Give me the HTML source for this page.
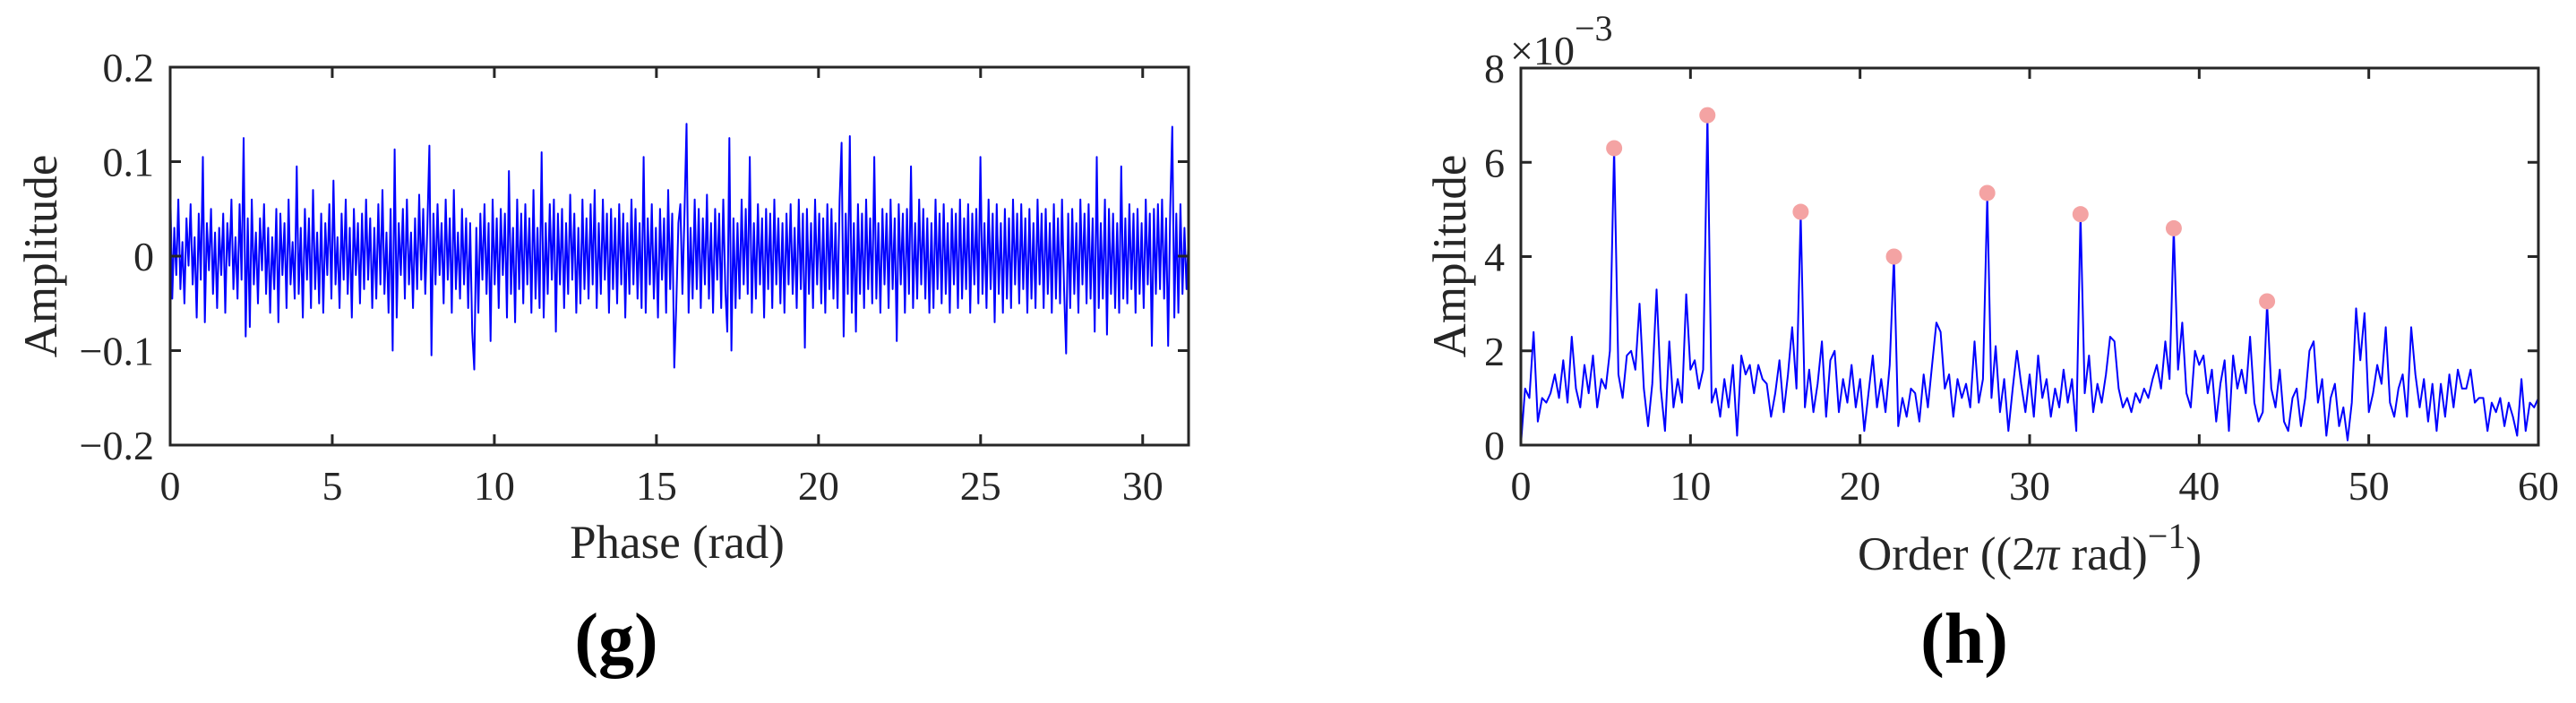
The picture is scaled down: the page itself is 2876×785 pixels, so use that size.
<!DOCTYPE html>
<html><head><meta charset="utf-8"><title>Phase signal and order spectrum</title>
<style>
html,body{margin:0;padding:0;background:#fff;}
svg{display:block;font-family:"Liberation Serif","DejaVu Serif",serif;}
.tk{font-size:46px;fill:#262626;}
.lb{font-size:53px;fill:#262626;}
.pn{font-size:80px;font-weight:bold;fill:#000;}
</style></head>
<body>
<svg id="fig" width="2876" height="785" viewBox="0 0 2876 785" xmlns="http://www.w3.org/2000/svg">
<g id="left"></g>
<g id="right"></g>
</svg>
<script>
// ---- Panel (g) data: amplitude vs phase (thousandths) ----
const gXMax = 31.4159;
const gYTicks = [-0.2, -0.1, 0, 0.1, 0.2];
const gYTickLabels = ["\u22120.2", "\u22120.1", "0", "0.1", "0.2"];
const gXTicks = [0, 5, 10, 15, 20, 25, 30];
const gXTickLabels = ["0", "5", "10", "15", "20", "25", "30"];
const gSignal = [
80,-45,30,-20,60,-35,15,-50,40,-10,55,-30,20,-65,45,-25,105,-70,35,-15,50,-40,25,-55,30,
-20,45,-60,35,-10,60,-35,20,-45,55,-25,125,-85,40,-75,60,-30,25,-50,40,-15,55,-40,30,-60,
20,-35,50,-70,45,-20,35,-55,60,-30,15,-45,95,-40,30,-65,50,-25,40,-55,70,-35,25,-50,45,
-60,35,-20,55,-45,80,-30,20,-55,45,-25,60,-40,30,-65,50,-20,35,-50,45,-35,60,-25,40,-55,
30,-45,55,-30,70,-40,25,-60,50,-100,113,-65,35,-20,50,-45,60,-30,25,-55,40,-35,65,-25,50,
-40,30,117,-105,45,-30,55,-20,35,-50,60,-25,40,-60,70,-35,25,-45,50,-30,40,-55,35,-80,-120,
30,-60,45,-25,55,-40,35,-90,60,-30,40,-55,50,-20,45,-65,90,-40,30,-70,60,-35,45,-50,55,
-30,40,-60,70,-45,30,-55,110,-65,35,-40,55,-25,60,-80,45,-30,50,-55,35,-40,65,-25,45,-60,
30,-50,60,-35,40,-45,55,-30,70,-55,35,-40,60,-25,45,-60,50,-35,40,-50,55,-30,45,-65,35,
-40,60,-30,50,-45,35,-55,105,-60,40,-30,55,-45,30,-65,50,-25,40,-60,70,-35,45,-118,-50,35,
55,-40,45,140,-60,30,-45,60,-35,50,-55,40,-30,65,-45,35,-60,50,-25,45,-55,60,-35,-80,125,
-100,40,-55,35,-45,60,-30,50,-40,105,-60,35,-45,55,-30,40,-65,50,-35,45,-55,60,-30,40,-50,
35,-60,45,-30,55,-40,30,-55,60,-35,45,-97,50,-40,35,-55,60,-30,45,-50,40,-60,55,-35,50,
-45,35,-55,60,120,-85,45,-40,127,-60,35,-80,55,-40,45,-55,60,-35,40,-50,105,-45,35,-60,50,
-30,45,-55,60,-35,40,-90,55,-30,45,-60,50,-40,95,-55,35,-45,60,-30,50,-45,40,-60,35,-55,
60,-35,45,-50,55,-40,35,-60,50,-30,45,-55,60,-45,40,-35,55,-60,45,-30,50,-50,105,-40,35,
-55,60,-35,45,-70,55,-40,35,-60,50,-45,40,-55,60,-30,45,-50,55,-35,40,-60,50,-45,35,-55,
60,-30,45,-55,50,-40,35,-60,55,-45,40,-50,60,-35,-103,45,-55,50,-40,35,-60,60,-30,45,-50,
55,-45,40,-80,105,-55,35,-45,60,-83,50,-40,45,-55,35,-60,95,-45,40,-50,55,-35,45,-60,50,
-40,35,-55,60,-30,45,-95,50,-40,55,-35,60,-45,40,-95,50,137,-65,45,-60,55,-40,30,-35,20
];

// ---- Panel (h) data: order spectrum (units of 1e-4), step 0.25 ----
const hStep = 0.25;
const hYTicks = [0, 2, 4, 6, 8];
const hYTickLabels = ["0", "2", "4", "6", "8"];
const hXTicks = [0, 10, 20, 30, 40, 50, 60];
const hXTickLabels = ["0", "10", "20", "30", "40", "50", "60"];
const hSpectrum = [
0,12,10,24,5,10,9,11,15,10,18,9,23,12,8,17,11,19,8,14,12,
20,63,15,10,19,20,16,30,12,4,13,33,12,3,22,8,14,9,32,16,
18,12,16,70,9,12,6,14,8,17,2,19,15,17,11,17,14,13,6,11,
18,7,15,25,12,49,8,16,7,13,22,6,18,20,7,14,9,17,8,14,
3,11,19,8,14,7,17,40,4,10,6,12,11,5,15,8,17,26,24,12,
15,6,14,10,13,8,22,9,14,53,10,21,7,14,3,12,20,13,7,15,
6,19,10,14,6,12,8,16,9,14,3,49,11,19,7,13,9,15,23,22,
12,8,10,7,11,9,12,10,14,17,12,22,14,46,16,26,11,8,20,17,
19,11,16,5,13,18,3,19,12,16,11,23,9,5,7,30,12,8,16,5,
3,10,12,4,10,20,22,9,14,2,10,13,4,8,1,9,29,18,28,7,
11,17,13,25,9,6,12,15,6,25,15,8,14,5,13,3,13,6,15,8,
16,12,12,16,9,10,10,3,9,7,10,4,9,6,2,14,3,9,8,10
];
const peakX = [5.5, 11, 16.5, 22, 27.5, 33, 38.5, 44];
const peakY = [6.3, 7.0, 4.95, 4.0, 5.35, 4.9, 4.6, 3.05];

const NS = "http://www.w3.org/2000/svg";
function mk(parent, tag, attrs, text) {
  const e = document.createElementNS(NS, tag);
  for (const k in attrs) e.setAttribute(k, attrs[k]);
  if (text !== undefined) e.textContent = text;
  parent.appendChild(e);
  return e;
}

function drawAxes(g, L, T, R, B, sx, sy, xT, xTL, yT, yTL) {
  const tl = 12;
  xT.forEach((v, i) => {
    const x = sx(v);
    const t1 = mk(g, "line", {x1:x, y1:B, x2:x, y2:B - tl, stroke:"#262626", "stroke-width":3});
    
    
    const t2 = mk(g, "line", {x1:x, y1:T, x2:x, y2:T + tl, stroke:"#262626", "stroke-width":3});
    
    
    const lab = mk(g, "text", {x:x, y:B + 61, "text-anchor":"middle", class:"tk"}, xTL[i]);
    
    
  });
  yT.forEach((v, i) => {
    const y = sy(v);
    const t1 = mk(g, "line", {x1:L, y1:y, x2:L + tl, y2:y, stroke:"#262626", "stroke-width":3});
    
    
    const t2 = mk(g, "line", {x1:R, y1:y, x2:R - tl, y2:y, stroke:"#262626", "stroke-width":3});
    
    
    const lab = mk(g, "text", {x:L - 18, y:y + 16, "text-anchor":"end", class:"tk"}, yTL[i]);
    
    
  });
  const box = mk(g, "rect", {x:L, y:T, width:R - L, height:B - T, fill:"none", stroke:"#262626", "stroke-width":3});
  
  
}

// ---- Panel g ----
(function(){
  const g = document.getElementById("left");
  const L = 190, R = 1327, T = 75, B = 497;
  const sx = v => L + (v / gXMax) * (R - L);
  const sy = v => B - (v + 0.2) / 0.4 * (B - T);
  const dx = gXMax / (gSignal.length - 1);
  const pts = gSignal.map((v, i) => sx(i * dx).toFixed(1) + "," + sy(v / 1000).toFixed(1)).join(" ");
  const line = mk(g, "polyline", {points:pts, fill:"none", stroke:"#0000ff", "stroke-width":2, "stroke-linejoin":"round"});
  
  
  drawAxes(g, L, T, R, B, sx, sy, gXTicks, gXTickLabels, gYTicks, gYTickLabels);
  const xl = mk(g, "text", {x:756, y:623, "text-anchor":"middle", class:"lb"}, "Phase (rad)");
  
  
  const yl = mk(g, "text", {x:0, y:0, "text-anchor":"middle", class:"lb", transform:"translate(63,286) rotate(-90)"}, "Amplitude");
  
  
  const pl = mk(g, "text", {x:688, y:740, "text-anchor":"middle", class:"pn"}, "(g)");
  
  
})();

// ---- Panel h ----
(function(){
  const g = document.getElementById("right");
  const L = 1698, R = 2834, T = 76, B = 497;
  const sx = v => L + (v / 60) * (R - L);
  const sy = v => B - (v / 8) * (B - T);
  const pts = hSpectrum.map((v, i) => sx(i * hStep).toFixed(1) + "," + sy(v / 10).toFixed(1)).join(" ");
  const line = mk(g, "polyline", {points:pts, fill:"none", stroke:"#0000ff", "stroke-width":2, "stroke-linejoin":"round"});
  
  
  peakX.forEach((px, i) => {
    const c = mk(g, "circle", {cx:sx(px), cy:sy(peakY[i]), r:9, fill:"#f4a3a3"});
    
    
  });
  drawAxes(g, L, T, R, B, sx, sy, hXTicks, hXTickLabels, hYTicks, hYTickLabels);
  const ex = mk(g, "text", {x:1686, y:72, class:"tk"});
  
  
  ex.innerHTML = '\u00d710<tspan dy="-27" font-size="40">\u22123</tspan>';
  const xl = mk(g, "text", {x:2266, y:636, "text-anchor":"middle", class:"lb"});
  
  
  xl.innerHTML = 'Order ((2<tspan font-style="italic">\u03c0</tspan> rad)<tspan dy="-24" font-size="40">\u22121</tspan><tspan dy="24">)</tspan>';
  const yl = mk(g, "text", {x:0, y:0, "text-anchor":"middle", class:"lb", transform:"translate(1636,286) rotate(-90)"}, "Amplitude");
  
  
  const pl = mk(g, "text", {x:2193, y:740, "text-anchor":"middle", class:"pn"}, "(h)");
  
  
})();
</script>
</body></html>
